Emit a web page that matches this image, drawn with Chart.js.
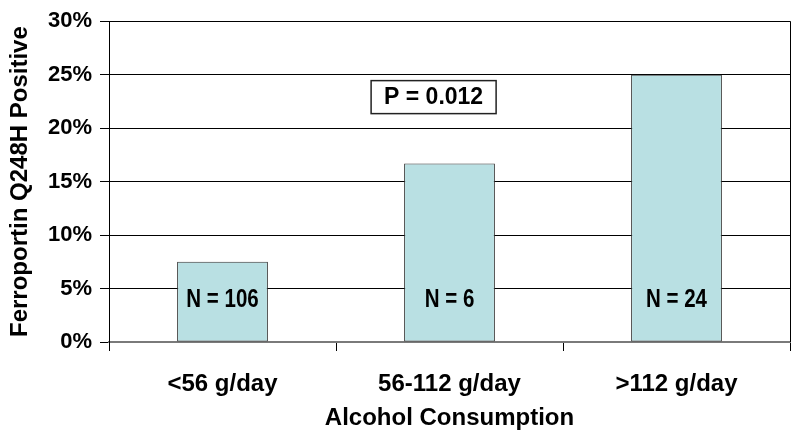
<!DOCTYPE html>
<html>
<head>
<meta charset="utf-8">
<script src="https://cdn.jsdelivr.net/npm/chart.js@4/dist/chart.umd.min.js"></script>
<style>
   html, body { margin: 0; padding: 0; background: #fff; }
   #wrap { width: 800px; height: 445px; }
</style>
</head>
<body>
<div id="wrap"><canvas id="chart" width="800" height="445"></canvas></div>
<script>
// data
const categories = ['<56 g/day', '56-112 g/day', '>112 g/day'];
const positivePct = [7.5, 16.7, 25];
const groupLabels = ['N = 106', 'N = 6', 'N = 24'];
const yMax = 30;
const yStep = 5;
const pValueText = 'P = 0.012';

const regular = "'Liberation Sans', Arial, sans-serif";

// right border, N labels in the bars, P value box
const extras = {
   id: 'extras',
   afterDatasetsDraw(chart) {
      const ctx = chart.ctx;
      const area = chart.chartArea;
      const x = chart.scales.x;
      const y = chart.scales.y;

      ctx.save();
      ctx.strokeStyle = '#000';
      ctx.lineWidth = 1;
      ctx.beginPath();
      ctx.moveTo(area.right + 0.5, area.top);
      ctx.lineTo(area.right + 0.5, area.bottom);
      ctx.stroke();

      ctx.fillStyle = '#000';
      ctx.textAlign = 'center';
      ctx.textBaseline = 'middle';
      ctx.font = 'bold 25px ' + regular;
      // narrow-looking labels: squeeze the text horizontally
      groupLabels.forEach((t, i) => {
         ctx.save();
         ctx.translate(x.getPixelForValue(i), y.getPixelForValue(3.9));
         ctx.scale(0.82, 1);
         ctx.fillText(t, 0, 0);
         ctx.restore();
      });

      // P value box
      const cx = x.getPixelForValue(0.93);
      const cy = y.getPixelForValue(22.9);
      ctx.font = 'bold 23px ' + regular;
      const w = 125, h = 33;
      ctx.fillStyle = '#fff';
      ctx.fillRect(cx - w / 2, cy - h / 2, w, h);
      ctx.lineWidth = 1.5;
      ctx.strokeStyle = '#222';
      ctx.strokeRect(cx - w / 2, cy - h / 2, w, h);
      ctx.fillStyle = '#000';
      ctx.fillText(pValueText, cx, cy + 1);
      ctx.restore();
   }
};

new Chart(document.getElementById('chart').getContext('2d'), {
   type: 'bar',
   data: {
      labels: categories,
      datasets: [{
         data: positivePct,
         backgroundColor: '#b9e0e3',
         borderColor: '#333',
         borderWidth: 1,
         borderSkipped: false,
         categoryPercentage: 1,
         barPercentage: 0.4,
      }],
   },
   options: {
      responsive: false,
      animation: false,
      layout: { padding: { top: 18, right: 10, left: 0, bottom: 0 } },
      plugins: {
         legend: { display: false },
         tooltip: { enabled: false },
      },
      scales: {
         x: {
            offset: true,
            grid: {
               offset: true,
               drawOnChartArea: false,
               drawTicks: true,
               tickLength: 9,
               color: '#000',
            },
            border: { display: true, color: '#7a7a7a', width: 2 },
            ticks: {
               color: '#000',
               padding: 19,
               font: { family: regular, size: 24, weight: 'bold' },
            },
            title: {
               display: true,
               text: 'Alcohol Consumption',
               color: '#000',
               padding: { top: 4, bottom: 12 },
               font: { family: regular, size: 24, weight: 'bold' },
            },
            afterFit(axis) { axis.height = 103; },
         },
         y: {
            min: 0,
            max: yMax,
            ticks: {
               stepSize: yStep,
               color: '#000',
               padding: 8,
               font: { family: regular, size: 22, weight: 'bold' },
               callback: (v) => v + '%',
            },
            grid: { color: '#000', lineWidth: 1, tickLength: 9 },
            border: { display: true, color: '#000', width: 1 },
            title: {
               display: true,
               text: 'Ferroportin Q248H Positive',
               color: '#000',
               padding: { top: 6, bottom: 4 },
               font: { family: regular, size: 24, weight: 'bold' },
            },
            afterFit(axis) { axis.width = 109; },
         },
      },
   },
   plugins: [extras],
});
</script>
</body>
</html>
